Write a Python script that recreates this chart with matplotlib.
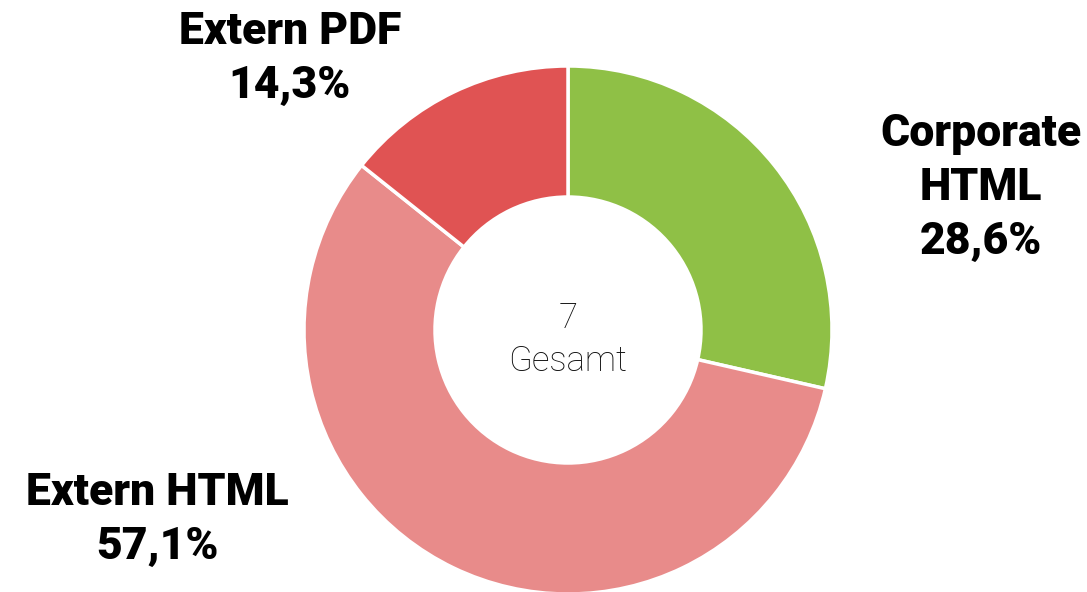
import matplotlib.pyplot as plt

# Daten
labels = ["Corporate\nHTML", "Extern HTML", "Extern PDF"]
counts = [2, 4, 1]
colors = ["#8FC046", "#E88B8A", "#E05353"]

total = sum(counts)
percents = [c / total * 100 for c in counts]

fig = plt.figure(figsize=(10.87, 5.92), dpi=100)
ax = fig.add_axes([0, 0, 1, 1])

ax.pie(counts, colors=colors, startangle=90, counterclock=False,
       center=(568, 262), radius=264,
       wedgeprops=dict(width=131, edgecolor="white", linewidth=2.5))

# pie() setzt eigene Grenzen -> danach überschreiben
ax.set_xlim(0, 1087)
ax.set_ylim(0, 592)
ax.set_aspect("auto")
ax.axis("off")

# Beschriftungen außen
label_pos = [(981, 404), (157, 72), (290, 533)]
for lab, pct, (x, y) in zip(labels, percents, label_pos):
    txt = f"{lab}\n{pct:.1f}%".replace(".", ",")
    ax.text(x, y, txt, ha="center", va="center", fontsize=32,
            fontweight=900, family=["Roboto", "DejaVu Sans"],
            linespacing=1.35, color="black")

# Mitte
ax.text(568, 252, f"{total}\nGesamt", ha="center", va="center", fontsize=25,
        fontweight="light", family=["Roboto", "DejaVu Sans"], color="#111111",
        linespacing=1.35)

fig.savefig("out.png", dpi=100)
